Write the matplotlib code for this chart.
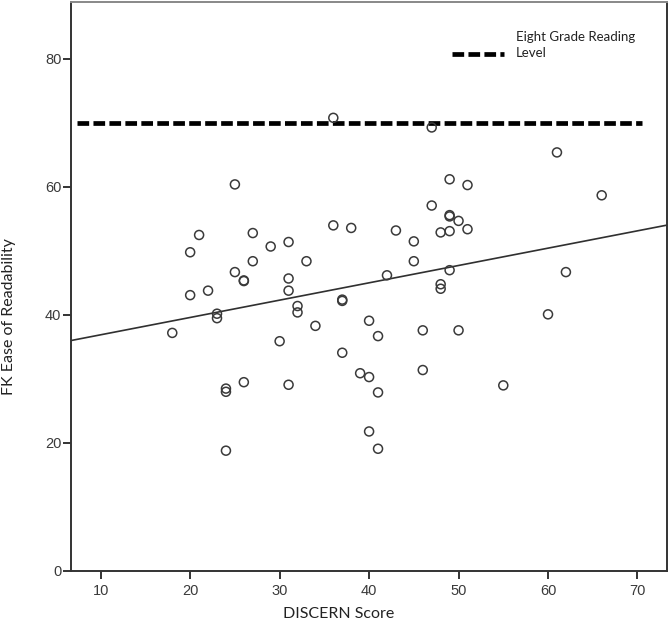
import matplotlib
matplotlib.use("Agg")
import matplotlib.pyplot as plt
import numpy as np

# DISCERN score vs FK ease of readability
discern = [18, 20, 20, 21, 22, 23, 23, 24, 24, 24, 25, 25, 26, 26, 26, 27, 27,
           29, 30, 31, 31, 31, 31, 32, 32, 33, 34, 36, 36, 37, 37, 37, 38, 39,
           40, 40, 40, 41, 41, 41, 42, 43, 45, 45, 46, 46, 47, 47, 48, 48, 48,
           49, 49, 49, 49, 49, 50, 50, 51, 51, 55, 60, 61, 62, 66]
fk_ease = [37.2, 49.8, 43.1, 52.5, 43.8, 40.2, 39.5, 28.5, 28.0, 18.8, 60.4,
           46.7, 45.4, 45.3, 29.5, 52.8, 48.4, 50.7, 35.9, 51.4, 45.7, 43.8,
           29.1, 41.4, 40.4, 48.4, 38.3, 70.8, 54.0, 42.4, 42.2, 34.1, 53.6,
           30.9, 39.1, 30.3, 21.8, 36.7, 27.9, 19.1, 46.2, 53.2, 51.5, 48.4,
           37.6, 31.4, 69.3, 57.1, 52.9, 44.8, 44.1, 61.2, 55.6, 55.4, 53.1,
           47.0, 54.7, 37.6, 60.3, 53.4, 29.0, 40.1, 65.4, 46.7, 58.7]

eighth_grade_level = 70
ref_x = [7.3, 70.5]
x_ticks = [10, 20, 30, 40, 50, 60, 70]
y_ticks = [0, 20, 40, 60, 80]
xlim = (6.68, 73.3)
ylim = (0, 88.9)

fig = plt.figure(figsize=(6.69, 6.24), dpi=100)
ax = fig.add_axes([71 / 669, 53 / 624, 596 / 669, 569 / 624])

ax.scatter(discern, fk_ease, s=42, facecolors="none", edgecolors="#3a3a3a",
           linewidths=1.1, zorder=3)

# linear fit
slope, intercept = np.polyfit(discern, fk_ease, 1)
fx = np.array(xlim)
ax.plot(fx, intercept + slope * fx, color="#303030", lw=1.2, zorder=2)

dash_style = dict(color="black", lw=3.4, dashes=(2.47, 0.91))
ax.plot(ref_x, [eighth_grade_level] * 2, zorder=2, **dash_style)

ax.set_xlim(*xlim)
ax.set_ylim(*ylim)
ax.set_xticks(x_ticks)
ax.set_yticks(y_ticks)

tick_font = ["Liberation Sans", "DejaVu Sans"]
ax.set_xticklabels([str(t) for t in x_ticks], family=tick_font,
                   fontsize=10.5, color="#3a3a3a")
ax.set_yticklabels([str(t) for t in y_ticks], family=tick_font,
                   fontsize=10.5, color="#3a3a3a")
ax.tick_params(axis="x", length=6, width=1.4, color="#333333", pad=3.5)
ax.tick_params(axis="y", length=6, width=1.4, color="#333333", pad=1)

for side in ["left", "bottom", "right"]:
    ax.spines[side].set_color("#333333")
    ax.spines[side].set_linewidth(1.4)
ax.spines["top"].set_color("#888888")
ax.spines["top"].set_linewidth(1.4)

lab_font = ["Lato", "DejaVu Sans"]
fig.text(339 / 669, 1 - 614 / 624, "DISCERN Score", family=lab_font,
         fontsize=11.5, color="#222222", ha="center", va="center")
fig.text(9 / 669, 1 - 317 / 624, "FK Ease of Readability", family=lab_font,
         fontsize=11.5, color="#222222", ha="center", va="center",
         rotation=90)

# legend entry drawn by hand, as in the original
fig.lines.append(plt.Line2D([452 / 669, 504 / 669], [1 - 54 / 624] * 2,
                            transform=fig.transFigure, **dash_style))
fig.text(516 / 669, 1 - 37 / 624, "Eight Grade Reading", family=lab_font,
         fontsize=9.5, color="#222222", ha="left", va="center")
fig.text(516 / 669, 1 - 53 / 624, "Level", family=lab_font,
         fontsize=9.5, color="#222222", ha="left", va="center")

fig.savefig("out.png", dpi=100)
